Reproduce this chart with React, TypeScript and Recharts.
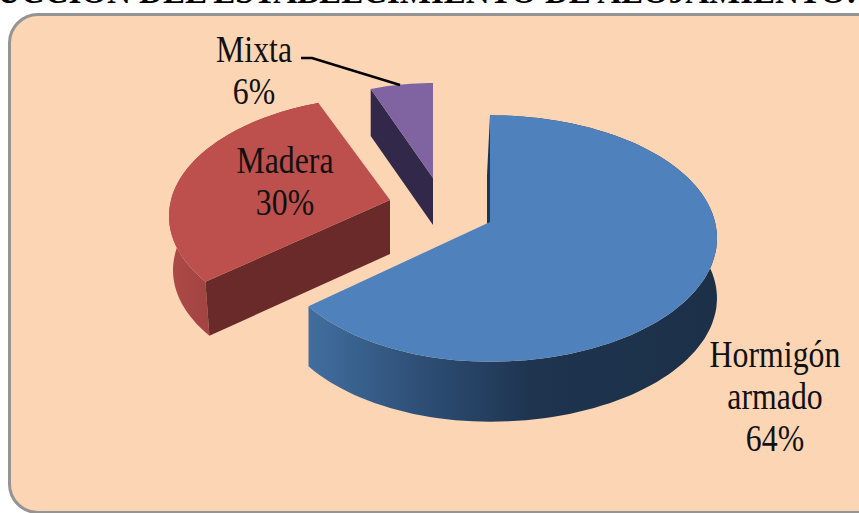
import { PieChart, Pie, Cell } from 'recharts';

const categories = ['Hormigón armado', 'Madera', 'Mixta'];
const values = [64, 30, 6];

const TOP_COLORS = ['#4f81bd', '#bd4f4c', '#8064a2'];
const FACE_COLORS = ['#1c3550', '#6a2a2a', '#31284a'];
const WALL_STOPS = [
  ['#416e9f', '#2c4c72', '#1e344f', '#1c3048'],
  ['#ad4a47', '#a04341', '#943d3b', '#8a3836'],
  ['#31284a', '#31284a', '#31284a', '#31284a'],
];

// slice layout, not data
const OFFSETS = [[0, 0], [-100, -22], [-57, -44]];
const DEPTHS = [60, 54, 47];
const X_SCALE = [1, 1, 0.89];
const Y_SCALE = [1, 0.97, 0.89];
const WALL_SHIFT = [0, 4, 0];
const SIDE_SHIFT = [5, 1, 5];
const LABEL_POS = [[775, 367], [285, 173], [254, 62]];

const W = 859;
const H = 513;
const RY_RATIO = 0.55;
const PERSPECTIVE = 0.134;

const project = (cx: number, cy: number, rx: number, deg: number, i: number) => {
  const a = (deg * Math.PI) / 180;
  const s = 1 / (1 + PERSPECTIVE * Math.cos(a));
  const sin = Math.sin(a);
  return [
    cx + rx * X_SCALE[i] * sin * s + SIDE_SHIFT[i] * Math.abs(sin),
    cy - rx * RY_RATIO * Y_SCALE[i] * Math.cos(a) * s,
  ];
};

const toPath = (pts: number[][]) =>
  'M' + pts.map((p) => `${p[0].toFixed(1)},${p[1].toFixed(1)}`).join('L') + 'Z';

// draws one slice as an extruded, tilted wedge from the angles Pie computed
const Slice3D = (props: any) => {
  const { cx, cy, outerRadius, startAngle, endAngle, index } = props;
  const [dx, dy] = OFFSETS[index];
  const depth = DEPTHS[index];
  const ox = cx + dx;
  const oy = cy + dy;
  const from = 90 - startAngle;
  const to = 90 - endAngle;

  const arc: number[][] = [];
  for (let d = from; d <= to; d += 2) arc.push(project(ox, oy, outerRadius, d, index));
  arc.push(project(ox, oy, outerRadius, to, index));

  const down = (p: number[], sx = 0) => [p[0] + sx, p[1] + depth];
  const wall = [...arc, ...arc.slice().reverse().map((p) => down(p, WALL_SHIFT[index]))];
  const tip = [ox, oy];
  const first = arc[0];
  const gid = `wall-${index}`;
  const stops = WALL_STOPS[index];

  return (
    <g>
      <defs>
        <linearGradient id={gid} x1="0" y1="0" x2="1" y2="0">
          <stop offset="0%" stopColor={stops[0]} />
          <stop offset="30%" stopColor={stops[1]} />
          <stop offset="55%" stopColor={stops[2]} />
          <stop offset="100%" stopColor={stops[3]} />
        </linearGradient>
      </defs>
      {index !== 2 && <path d={toPath(wall)} fill={`url(#${gid})`} />}
      {index === 0 && (
        <path d={toPath([tip, first, down(first, -3), down(tip, -3)])} fill={FACE_COLORS[0]} />
      )}
      {index === 1 && (
        <path d={toPath([tip, first, down(first, 4), down(tip)])} fill={FACE_COLORS[1]} />
      )}
      {index === 2 && (
        <path d={toPath([tip, first, down(first), down(tip)])} fill={FACE_COLORS[2]} />
      )}
      <path d={toPath([tip, ...arc])} fill={TOP_COLORS[index]} />
    </g>
  );
};

const renderLabel = (props: any) => {
  const { index } = props;
  const [x, y] = LABEL_POS[index];
  const words = index === 0 ? categories[index].split(' ') : [categories[index]];
  const lines = [...words, `${values[index]}%`];
  return (
    <g key={index}>
      {index === 2 && (
        <path d="M301,58 L312,58 L400,85" fill="none" stroke="#000" strokeWidth={2.5} />
      )}
      {lines.map((t, i) => (
        <text
          key={t}
          transform={`translate(${x},${y + i * 42}) scale(0.86,1)`}
          textAnchor="middle"
          fontFamily="'Liberation Serif'"
          fontSize={37}
          fill="#111"
        >
          {t}
        </text>
      ))}
    </g>
  );
};

const chartData = categories.map((name, i) => ({ name, value: values[i] }));

export default function App() {
  return (
    <div style={{ position: 'fixed', left: 0, top: 0, width: W, height: H, overflow: 'hidden', background: '#fff' }}>
      <div
        style={{
          position: 'absolute',
          right: 2,
          top: -25,
          whiteSpace: 'nowrap',
          fontFamily: "'Liberation Serif'",
          fontWeight: 700,
          fontSize: 33,
          lineHeight: '34px',
          color: '#000',
        }}
      >
        CONSTRUCCION DEL ESTABLECIMIENTO DE ALOJAMIENTO:
      </div>
      <div
        style={{
          position: 'absolute',
          left: 8,
          top: 13,
          width: 900,
          height: 501,
          boxSizing: 'border-box',
          background: '#fcd5b5',
          border: '3px solid #949494',
          borderRadius: 30,
        }}
      />
      <div style={{ position: 'absolute', left: 0, top: 0 }}>
        <PieChart width={W} height={H} margin={{ top: 0, right: 0, bottom: 0, left: 0 }}>
          <Pie
            data={chartData}
            dataKey="value"
            nameKey="name"
            cx={490}
            cy={222}
            innerRadius={0}
            outerRadius={220}
            startAngle={90}
            endAngle={-270}
            stroke="none"
            shape={Slice3D}
            label={renderLabel}
            labelLine={false}
            isAnimationActive={false}
          >
            {chartData.map((_, i) => (
              <Cell key={i} fill={TOP_COLORS[i]} />
            ))}
          </Pie>
        </PieChart>
      </div>
    </div>
  );
}
